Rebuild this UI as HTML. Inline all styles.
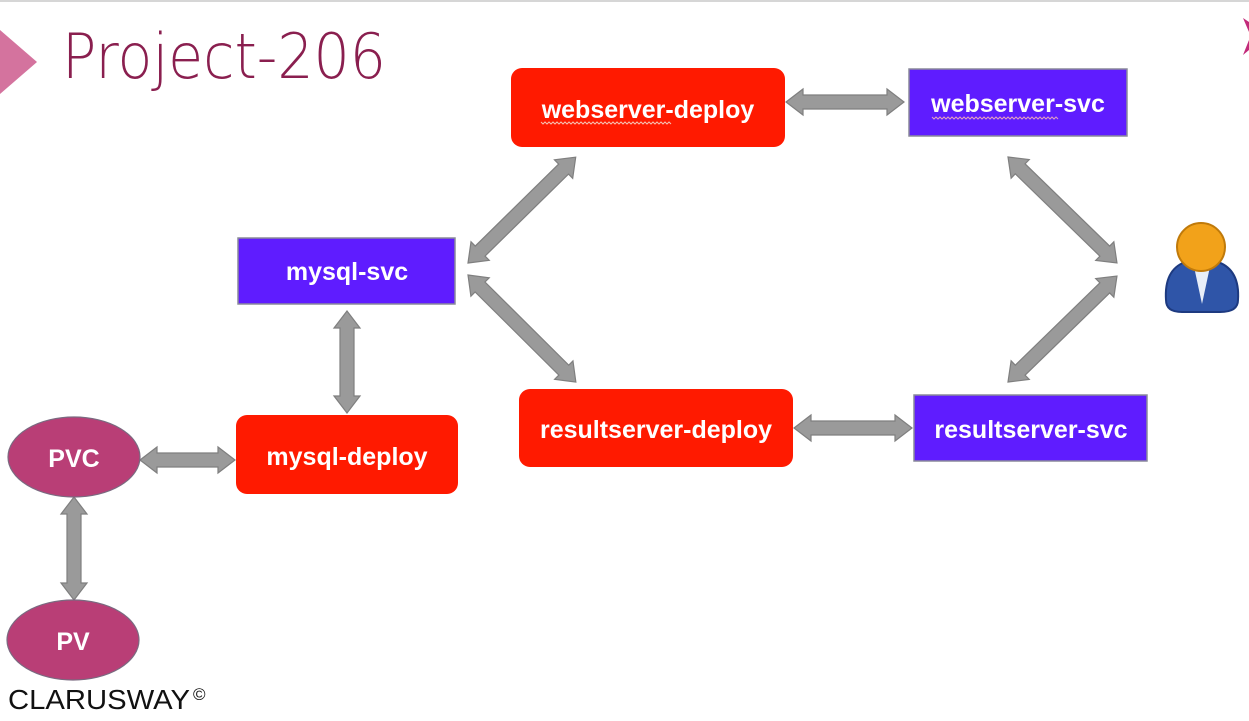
<!DOCTYPE html>
<html><head><meta charset="utf-8"><style>
html,body{margin:0;padding:0;background:#fff;width:1249px;height:721px;overflow:hidden}
svg{display:block}
text{font-family:"Liberation Sans",sans-serif}
</style></head><body>
<svg width="1249" height="721" viewBox="0 0 1249 721" xmlns="http://www.w3.org/2000/svg">
<rect x="0" y="0" width="1249" height="2" fill="#d6d6d6"/>
<polygon points="0,30 37,62 0,94" fill="#d4739e"/>
<text x="62" y="78" font-size="62" fill="#8a1f4f" style="font-family:'DejaVu Sans','Liberation Sans',sans-serif;font-weight:200" textLength="324" lengthAdjust="spacingAndGlyphs">Project-206</text>
<polygon points="1243,18 1249,22 1249,50 1243,55 1249,40 1249,32" fill="#c22a7a"/>

<g fill="#9a9a9a" stroke="#7f7f7f" stroke-width="1.2">
<g transform="translate(786,102)"><polygon points="0,0 17,-13 17,-7 101,-7 101,-13 118,0 101,13 101,7 17,7 17,13"/></g>
<g transform="translate(794,428)"><polygon points="0,0 17,-13 17,-7 101,-7 101,-13 118,0 101,13 101,7 17,7 17,13"/></g>
<g transform="translate(140,460)"><polygon points="0,0 17,-13 17,-7 78,-7 78,-13 95,0 78,13 78,7 17,7 17,13"/></g>
<g transform="translate(347,311) rotate(90)"><polygon points="0,0 17,-13 17,-7 85,-7 85,-13 102,0 85,13 85,7 17,7 17,13"/></g>
<g transform="translate(74,497) rotate(90)"><polygon points="0,0 17,-13 17,-7 86,-7 86,-13 103,0 86,13 86,7 17,7 17,13"/></g>
<g transform="translate(468,263) rotate(-44.5)"><polygon points="0,0 17,-13 17,-7 134,-7 134,-13 151,0 134,13 134,7 17,7 17,13"/></g>
<g transform="translate(468,275) rotate(44.8)"><polygon points="0,0 17,-13 17,-7 135,-7 135,-13 152,0 135,13 135,7 17,7 17,13"/></g>
<g transform="translate(1008,157) rotate(44.2)"><polygon points="0,0 17,-13 17,-7 135,-7 135,-13 152,0 135,13 135,7 17,7 17,13"/></g>
<g transform="translate(1008,382) rotate(-44.2)"><polygon points="0,0 17,-13 17,-7 135,-7 135,-13 152,0 135,13 135,7 17,7 17,13"/></g>
</g>

<g fill="#ff1a00">
<rect x="511" y="68" width="274" height="79" rx="11"/>
<rect x="236" y="415" width="222" height="79" rx="11"/>
<rect x="519" y="389" width="274" height="78" rx="11"/>
</g>
<g fill="#5f1cff" stroke="#8a8a9a" stroke-width="1.5">
<rect x="909" y="69" width="218" height="67"/>
<rect x="238" y="238" width="217" height="66"/>
<rect x="914" y="395" width="233" height="66"/>
</g>
<g fill="#b93e76" stroke="#7a6a80" stroke-width="1.2">
<ellipse cx="74" cy="457" rx="66" ry="40"/>
<ellipse cx="73" cy="640" rx="66" ry="40"/>
</g>

<g fill="#fff" font-weight="bold" font-size="25" text-anchor="middle">
<text x="648" y="118">webserver-deploy</text>
<text x="1018" y="112">webserver-svc</text>
<text x="347" y="280">mysql-svc</text>
<text x="347" y="465">mysql-deploy</text>
<text x="656" y="438">resultserver-deploy</text>
<text x="1031" y="438">resultserver-svc</text>
<text x="74" y="467">PVC</text>
<text x="73" y="650">PV</text>
</g>
<path d="M541,122 l2,2 l2,-2 l2,2 l2,-2 l2,2 l2,-2 l2,2 l2,-2 l2,2 l2,-2 l2,2 l2,-2 l2,2 l2,-2 l2,2 l2,-2 l2,2 l2,-2 l2,2 l2,-2 l2,2 l2,-2 l2,2 l2,-2 l2,2 l2,-2 l2,2 l2,-2 l2,2 l2,-2 l2,2 l2,-2 l2,2 l2,-2 l2,2 l2,-2 l2,2 l2,-2 l2,2 l2,-2 l2,2 l2,-2 l2,2 l2,-2 l2,2 l2,-2 l2,2 l2,-2 l2,2 l2,-2 l2,2 l2,-2 l2,2 l2,-2 l2,2 l2,-2 l2,2 l2,-2 l2,2 l2,-2 l2,2 l2,-2 l2,2 l2,-2 l2,2" fill="none" stroke="#f5c0b0" stroke-width="1"/>
<path d="M932,117 l2,2 l2,-2 l2,2 l2,-2 l2,2 l2,-2 l2,2 l2,-2 l2,2 l2,-2 l2,2 l2,-2 l2,2 l2,-2 l2,2 l2,-2 l2,2 l2,-2 l2,2 l2,-2 l2,2 l2,-2 l2,2 l2,-2 l2,2 l2,-2 l2,2 l2,-2 l2,2 l2,-2 l2,2 l2,-2 l2,2 l2,-2 l2,2 l2,-2 l2,2 l2,-2 l2,2 l2,-2 l2,2 l2,-2 l2,2 l2,-2 l2,2 l2,-2 l2,2 l2,-2 l2,2 l2,-2 l2,2 l2,-2 l2,2 l2,-2 l2,2 l2,-2 l2,2 l2,-2 l2,2 l2,-2 l2,2 l2,-2 l2,2" fill="none" stroke="#e0a0c0" stroke-width="1"/>

<path d="M1166,300 Q1164,270 1185,262 L1218,262 Q1240,270 1238,300 Q1238,312 1220,312 L1182,312 Q1166,312 1166,300 Z" fill="#2f55a8" stroke="#1d3a80" stroke-width="2"/>
<polygon points="1193,262 1211,262 1202,304" fill="#e8eef8"/>
<circle cx="1201" cy="247" r="24" fill="#f2a21a" stroke="#c07a0a" stroke-width="2"/>

<text x="8" y="709" font-size="28" fill="#111" textLength="182" lengthAdjust="spacingAndGlyphs">CLARUSWAY</text>
<text x="193" y="700" font-size="17" fill="#111">©</text>
</svg>
</body></html>
